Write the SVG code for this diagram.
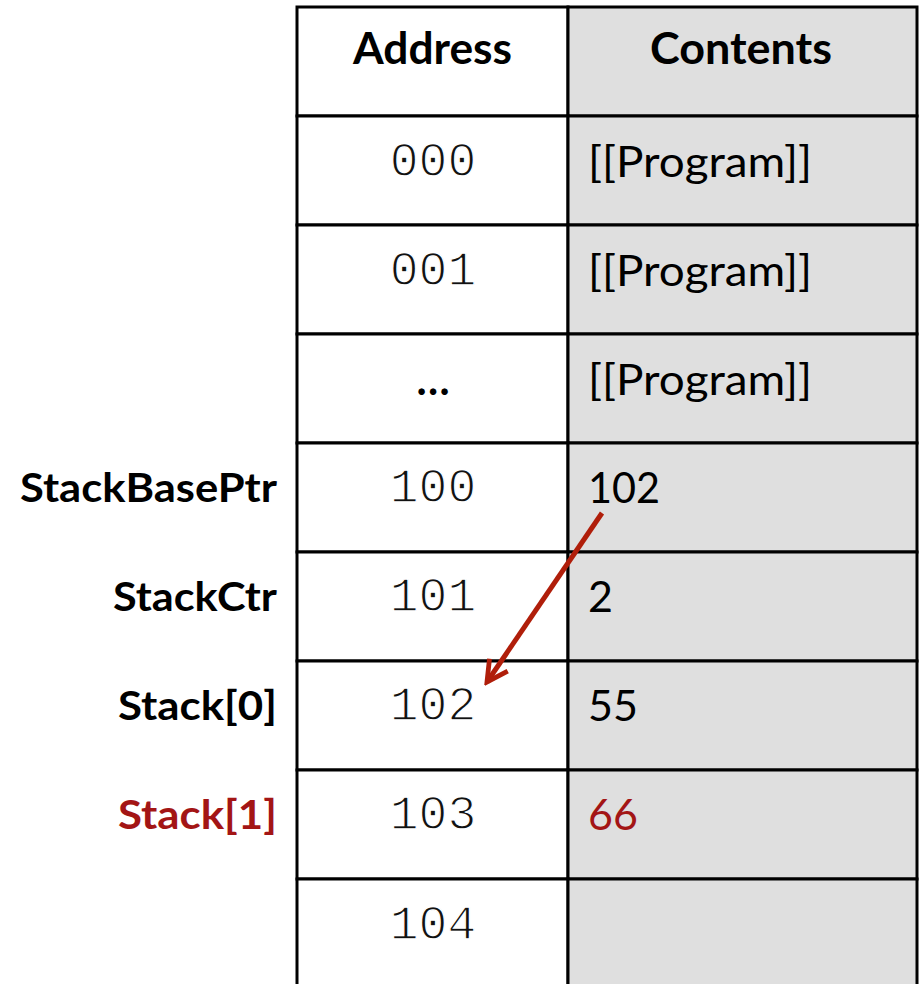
<svg xmlns="http://www.w3.org/2000/svg" width="919" height="984" viewBox="0 0 919 984">
<style>
.cellA{fill:#ffffff;stroke:#000;stroke-width:3}
.cellC{fill:#dfdfdf;stroke:#000;stroke-width:3}
.hdr{font-family:Lato,"Open Sans",sans-serif;font-weight:bold;font-size:44px;fill:#000;text-anchor:middle}
.mono{font-family:"Liberation Mono","DejaVu Sans Mono",monospace;font-size:48px;fill:#111;text-anchor:middle;stroke:#fff;stroke-width:1.3}
.val{font-family:Lato,"Open Sans",sans-serif;font-size:43px;fill:#000}
.lbl{font-family:Lato,"Open Sans",sans-serif;font-weight:bold;font-size:41px;fill:#000;text-anchor:end}
.red{fill:#a31515}
</style>
<defs>
<marker id="ah" viewBox="0 0 20 20" refX="17" refY="10" markerWidth="5.5" markerHeight="5.5" markerUnits="strokeWidth" orient="auto">
<path d="M2,2 L17,10 L2,18" fill="none" stroke="#b01e0a" stroke-width="3.5" stroke-linejoin="miter"/>
</marker>
</defs>
<g id="header">
<rect class="cellA" x="297" y="7" width="271" height="109"/>
<rect class="cellC" x="568" y="7" width="349" height="109"/>
<text class="hdr" x="432.5" y="64" textLength="159" lengthAdjust="spacingAndGlyphs">Address</text>
<text class="hdr" x="741" y="64" textLength="182" lengthAdjust="spacingAndGlyphs">Contents</text>
</g>
<g id="row-000">
<rect class="cellA" x="297" y="116" width="271" height="109"/>
<rect class="cellC" x="568" y="116" width="349" height="109"/>
<text class="mono" x="433" y="176">000</text>
<text class="val" x="588" y="177" textLength="224" lengthAdjust="spacingAndGlyphs">[[Program]]</text>
</g>
<g id="row-001">
<rect class="cellA" x="297" y="225" width="271" height="109"/>
<rect class="cellC" x="568" y="225" width="349" height="109"/>
<text class="mono" x="433" y="285">001</text>
<text class="val" x="588" y="286" textLength="224" lengthAdjust="spacingAndGlyphs">[[Program]]</text>
</g>
<g id="row-ellipsis">
<rect class="cellA" x="297" y="334" width="271" height="109"/>
<rect class="cellC" x="568" y="334" width="349" height="109"/>
<text class="val" x="433" y="395" text-anchor="middle" font-weight="bold" font-size="44">…</text>
<text class="val" x="588" y="395" textLength="224" lengthAdjust="spacingAndGlyphs">[[Program]]</text>
</g>
<g id="row-100">
<rect class="cellA" x="297" y="443" width="271" height="109"/>
<rect class="cellC" x="568" y="443" width="349" height="109"/>
<text class="lbl" x="277" y="502" textLength="257" lengthAdjust="spacingAndGlyphs">StackBasePtr</text>
<text class="mono" x="433" y="502">100</text>
<text class="val" x="588" y="503" textLength="72" lengthAdjust="spacingAndGlyphs">102</text>
</g>
<g id="row-101">
<rect class="cellA" x="297" y="552" width="271" height="109"/>
<rect class="cellC" x="568" y="552" width="349" height="109"/>
<text class="lbl" x="277" y="611" textLength="164" lengthAdjust="spacingAndGlyphs">StackCtr</text>
<text class="mono" x="433" y="611">101</text>
<text class="val" x="588" y="612">2</text>
</g>
<g id="row-102">
<rect class="cellA" x="297" y="661" width="271" height="109"/>
<rect class="cellC" x="568" y="661" width="349" height="109"/>
<text class="lbl" x="277" y="720" textLength="159" lengthAdjust="spacingAndGlyphs">Stack[0]</text>
<text class="mono" x="433" y="720">102</text>
<text class="val" x="588" y="721">55</text>
</g>
<g id="row-103">
<rect class="cellA" x="297" y="770" width="271" height="109"/>
<rect class="cellC" x="568" y="770" width="349" height="109"/>
<text class="lbl red" x="277" y="829" textLength="159" lengthAdjust="spacingAndGlyphs">Stack[1]</text>
<text class="mono" x="433" y="829">103</text>
<text class="val red" x="588" y="830">66</text>
</g>
<g id="row-104">
<rect class="cellA" x="297" y="879" width="271" height="120"/>
<rect class="cellC" x="568" y="879" width="349" height="120"/>
<text class="mono" x="433" y="939">104</text>
</g>
<g id="connectors">
<line x1="602" y1="513" x2="487" y2="682" stroke="#b01e0a" stroke-width="5" marker-end="url(#ah)"/>
</g>
</svg>
